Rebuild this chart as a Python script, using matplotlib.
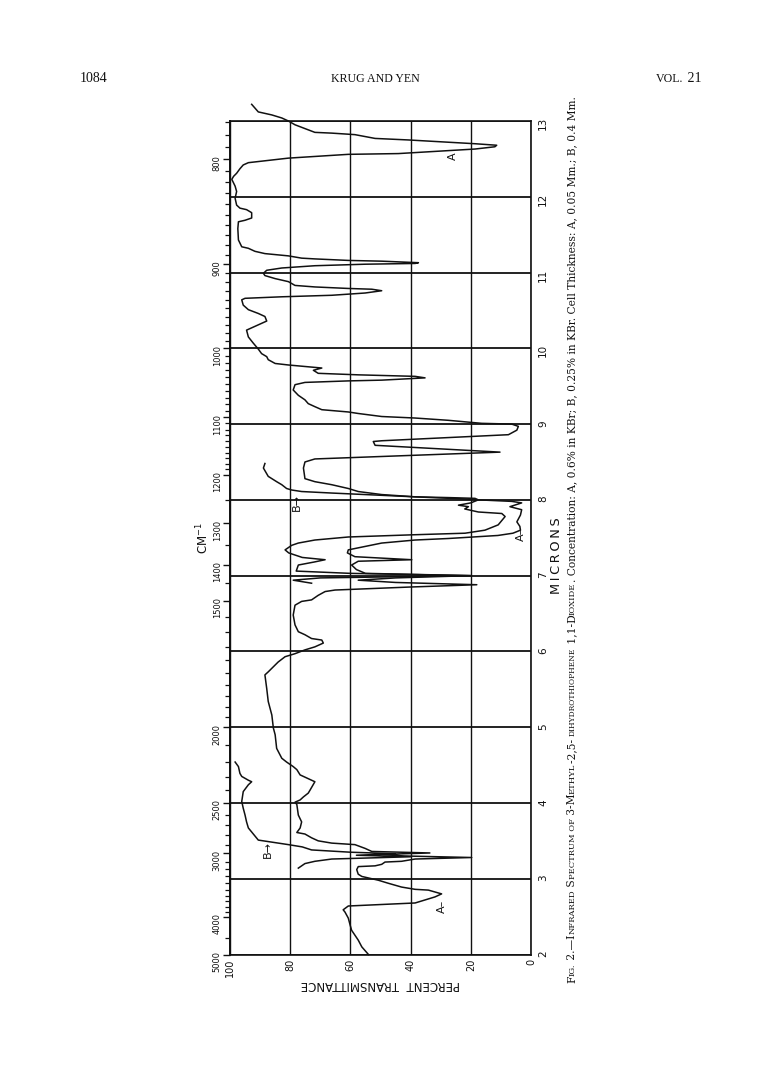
import numpy as np
import matplotlib
matplotlib.use("Agg")
import matplotlib.pyplot as plt
import matplotlib.transforms as mtransforms
from matplotlib.ticker import FixedLocator

W, H, DPI = 769, 1072, 100

# ---------------- data ----------------
# Curve A: wavelength (microns) and percent transmittance, in drawing order
a_microns = [2.00, 2.10, 2.19, 2.32, 2.39, 2.48, 2.56, 2.59, 2.64, 2.68, 2.76, 2.80, 2.85, 2.86,
             2.89, 2.94, 2.98, 3.01, 3.03, 3.06, 3.12, 3.16, 3.17, 3.19, 3.22, 3.23, 3.26, 3.28,
             3.30, 3.32, 3.34, 3.36, 3.40, 3.45, 3.47, 3.50, 3.54, 3.59, 3.61, 3.67, 3.75, 3.84,
             3.98, 4.01, 4.04, 4.08, 4.13, 4.17, 4.28, 4.30, 4.37, 4.44, 4.48, 4.54, 4.59, 4.72,
             4.90, 4.99, 5.16, 5.34, 5.51, 5.69, 5.73, 5.86, 5.93, 5.97, 6.02, 6.06, 6.11, 6.15,
             6.17, 6.22, 6.26, 6.35, 6.48, 6.61, 6.66, 6.68, 6.74, 6.79, 6.81, 6.85, 6.88, 6.91,
             6.94, 6.97, 7.00, 7.03, 7.08, 7.14, 7.19, 7.21, 7.25, 7.30, 7.34, 7.43, 7.47, 7.49,
             7.53, 7.56, 7.60, 7.65, 7.71, 7.80, 7.87, 7.91, 7.96, 7.98, 8.00, 8.02, 8.03, 8.04,
             8.07, 8.11, 8.15, 8.20, 8.24, 8.28, 8.42, 8.50, 8.54, 8.63, 8.72, 8.77, 8.78, 8.86,
             8.92, 8.97, 9.00, 9.01, 9.05, 9.08, 9.10, 9.14, 9.16, 9.19, 9.23, 9.27, 9.32, 9.38,
             9.45, 9.52, 9.55, 9.57, 9.58, 9.61, 9.63, 9.65, 9.67, 9.71, 9.74, 9.76, 9.78, 9.80,
             9.85, 9.89, 9.93, 9.99, 10.07, 10.15, 10.24, 10.29, 10.36, 10.42, 10.46, 10.51,
             10.57, 10.64, 10.66, 10.68, 10.70, 10.73, 10.76, 10.78, 10.79, 10.81, 10.83, 10.88,
             10.92, 10.96, 10.99, 11.03, 11.06, 11.09, 11.11, 11.12, 11.13, 11.15, 11.16, 11.18,
             11.19, 11.22, 11.25, 11.28, 11.32, 11.34, 11.43, 11.58, 11.67, 11.69, 11.72, 11.79,
             11.83, 11.85, 11.89, 11.98, 12.07, 12.14, 12.23, 12.27, 12.31, 12.37, 12.42, 12.45,
             12.51, 12.56, 12.57, 12.61, 12.63, 12.66, 12.68, 12.70, 12.72, 12.75, 12.77, 12.82,
             12.84, 12.85, 12.90, 12.95, 13.00, 13.04, 13.08, 13.12, 13.17, 13.22]
a_percent = [54.0, 56.2, 57.4, 59.6, 60.1, 60.7, 61.8, 62.4, 60.7, 38.5, 31.9, 29.7, 34.1, 38.5,
             43.0, 47.4, 50.7, 54.0, 56.2, 57.4, 57.9, 57.4, 51.8, 49.6, 48.5, 43.0, 38.5, 19.7,
             42.0, 50.0, 33.6, 52.9, 55.1, 58.5, 66.2, 70.7, 72.9, 75.1, 77.8, 76.7, 76.2, 77.3,
             77.8, 78.4, 76.7, 75.6, 74.0, 73.4, 71.8, 72.9, 76.7, 77.8, 79.0, 81.2, 82.8, 84.5,
             85.0, 85.6, 86.1, 87.3, 87.8, 88.4, 87.3, 84.0, 81.7, 78.4, 75.1, 71.8, 69.0, 69.5,
             72.9, 75.1, 77.3, 78.4, 79.0, 78.4, 76.2, 72.9, 70.7, 68.4, 65.1, 40.0, 18.0, 45.0,
             57.4, 45.0, 20.0, 55.0, 58.0, 59.6, 57.4, 39.6, 58.5, 61.0, 60.7, 49.6, 38.5, 27.5,
             11.0, 6.0, 3.5, 3.7, 4.7, 3.5, 3.1, 7.0, 3.1, 6.4, 17.5, 18.6, 27.4, 38.5,
             49.6, 57.4, 60.7, 66.2, 71.8, 75.1, 75.6, 75.1, 71.8, 10.3, 51.8, 52.4, 49.6, 7.5,
             4.7, 4.2, 6.4, 16.4, 27.5, 38.5, 49.6, 57.4, 60.7, 69.5, 71.8, 74.0, 75.1, 77.3,
             79.0, 78.4, 75.1, 60.7, 49.6, 35.2, 38.5, 57.4, 70.7, 72.3, 69.5, 75.1, 80.6, 85.0,
             87.3, 87.8, 89.5, 90.6, 92.3, 93.9, 94.5, 91.7, 87.8, 88.4, 90.6, 93.9,
             95.6, 96.1, 95.0, 82.8, 66.2, 55.1, 49.6, 52.9, 60.7, 71.8, 78.4, 80.6,
             85.0, 88.4, 88.9, 87.8, 82.8, 71.8, 55.1, 38.5, 37.4, 49.6, 60.7, 71.8,
             76.2, 80.6, 88.4, 91.7, 93.9, 96.1, 97.2, 97.4, 97.2, 95.0, 92.8, 92.8,
             94.5, 96.7, 97.8, 98.3, 97.8, 98.3, 99.4, 98.8, 97.8, 96.7, 95.6, 93.9,
             80.6, 60.7, 44.1, 27.5, 18.6, 12.0, 11.4, 18.6, 27.5, 40.8, 51.8, 58.5,
             66.2, 71.8, 75.1, 78.4, 80.6, 82.8, 86.1, 90.6, 91.7, 92.8]

# Curve B, first run (3 - 4.5 microns)
b1_microns = [3.14, 3.20, 3.23, 3.26, 3.27, 3.29, 3.31, 3.33, 3.35, 3.38, 3.42, 3.45, 3.51,
              3.67, 3.75, 3.84, 3.93, 4.02, 4.15, 4.24, 4.28, 4.30, 4.35, 4.39, 4.48, 4.54]
b1_percent = [77.3, 75.1, 71.8, 66.2, 57.4, 40.0, 58.0, 45.0, 60.0, 72.9, 76.0, 80.6, 90.6,
              93.9, 94.5, 95.0, 95.6, 96.1, 95.6, 93.9, 92.8, 93.9, 96.1, 96.7, 97.2, 98.3]

# Curve B, second run (6.9 - 8.5 microns)
b2_microns = [6.90, 6.94, 6.97, 7.00, 7.03, 7.06, 7.14, 7.18, 7.21, 7.24, 7.30, 7.34, 7.40,
              7.43, 7.47, 7.51, 7.54, 7.56, 7.60, 7.67, 7.78, 7.82, 7.84, 7.88, 7.91, 7.93,
              7.96, 8.00, 8.01, 8.03, 8.05, 8.07, 8.09, 8.11, 8.13, 8.15, 8.20, 8.24, 8.31,
              8.42, 8.48]
b2_percent = [72.9, 79.0, 70.0, 20.0, 60.0, 78.0, 77.3, 72.0, 68.4, 76.0, 80.5, 81.7, 79.5,
              77.3, 71.8, 60.7, 38.5, 21.9, 15.3, 10.9, 8.6, 9.7, 17.5, 22.0, 20.8, 24.1,
              20.0, 17.5, 20.8, 33.0, 44.1, 55.1, 66.2, 76.2, 79.5, 81.2, 82.8, 84.5, 87.3,
              88.9, 88.4]

percent_ticks = [100, 80, 60, 40, 20, 0]
micron_ticks = [2, 3, 4, 5, 6, 7, 8, 9, 10, 11, 12, 13]
wavenumber_labels = [5000, 4000, 3000, 2500, 2000, 1500, 1400, 1300, 1200, 1100, 1000, 900, 800]
wavenumber_minor = ([4500] + list(range(2600, 4000, 100)) + list(range(2100, 2500, 100))
                    + list(range(1550, 2000, 50)) + list(range(1250, 1500, 50))
                    + list(range(770, 1200, 10)))

# ---------------- figure ----------------
fig = plt.figure(figsize=(W / DPI, H / DPI), dpi=DPI)
fig.patch.set_facecolor("white")

x0, x1 = 230, 531          # page px of 100 % and 0 %
y_bot, y_top = 954.5, 121  # page px of 2 and 13 microns
ax = fig.add_axes([x0 / W, 1 - y_bot / H, (x1 - x0) / W, (y_bot - y_top) / H])
ax.set_xlim(100, 0)
ax.set_ylim(2, 13)
ink = "#111111"

for s in ax.spines.values():
    s.set_linewidth(1.2)
    s.set_color(ink)

ax.set_xticks(percent_ticks)
ax.set_yticks(micron_ticks)
ax.grid(True, axis="x", color=ink, lw=1.0)
ax.grid(True, axis="y", color=ink, lw=1.3)
ax.yaxis.tick_right()
ax.tick_params(axis="y", length=0, pad=5, labelrotation=90, labelsize=7.5, colors=ink)
ax.tick_params(axis="x", length=0, pad=3, labelrotation=90, labelsize=7, colors=ink)

ax.yaxis.set_label_position("right")
ax.set_ylabel("M\u2009I\u2009C\u2009R\u2009O\u2009N\u2009S", fontsize=9.3, rotation=90, color=ink)
ax.yaxis.set_label_coords(1.062, 0.478)
ax.set_xlabel("PERCENT  TRANSMITTANCE", fontsize=8.5, rotation=180, color=ink, labelpad=1)

sec = ax.secondary_yaxis("left", functions=(lambda m: 1e4 / np.clip(m, 1e-6, None),
                                             lambda w: 1e4 / np.clip(w, 1e-6, None)))
sec.yaxis.set_major_locator(FixedLocator(wavenumber_labels))
sec.yaxis.set_minor_locator(FixedLocator(wavenumber_minor))
sec.set_yticklabels([str(v) for v in wavenumber_labels])
sec.tick_params(which="major", direction="out", length=5, width=1.0, pad=1,
                labelrotation=90, labelsize=6, colors=ink)
sec.tick_params(which="minor", direction="out", length=3.5, width=0.9, colors=ink)
sec.spines["left"].set_linewidth(1.2)
sec.set_ylabel("CM$^{-1}$", fontsize=8.5, rotation=90, color=ink, labelpad=1)

lw = 1.1
ax.plot(a_percent, a_microns, color=ink, lw=lw, clip_on=False, zorder=3)
ax.plot(b1_percent, b1_microns, color=ink, lw=lw, clip_on=False, zorder=3)
ax.plot(b2_percent, b2_microns, color=ink, lw=lw, clip_on=False, zorder=3)

lab = dict(rotation=90, fontsize=8, color=ink, ha="center", va="center")
ax.text(25.8, 12.53, "A", **lab)
ax.text(29.5, 2.64, "A–", **lab)
ax.text(3.2, 7.55, "A–", **lab)
ax.text(87.5, 3.38, "B→", **lab)
ax.text(77.8, 7.97, "B→", **lab)

# ---------------- running text (page header & caption) ----------------
renderer = fig.canvas.get_renderer()
idt = mtransforms.IdentityTransform()


def advance(text, size, family):
    t = fig.text(0, 0, text + "|", fontsize=size, family=family)
    t2 = fig.text(0, 0, "|", fontsize=size, family=family)
    w = t.get_window_extent(renderer).width - t2.get_window_extent(renderer).width
    t.remove()
    t2.remove()
    return w


def runs_width(runs, family):
    return sum(advance(t, s, family) for t, s in runs)


def place_runs(x, y, runs, family, vertical=False):
    """x, y in page pixels (from top-left); baseline start."""
    pos = x if not vertical else y
    for text, size in runs:
        if vertical:
            fig.text(x, H - pos, text, fontsize=size, family=family, color=ink,
                     rotation=90, rotation_mode="anchor", ha="left", va="baseline",
                     transform=idt)
            pos -= advance(text, size, family)
        else:
            fig.text(pos, H - y, text, fontsize=size, family=family, color=ink,
                     ha="left", va="baseline", transform=idt)
            pos += advance(text, size, family)


hdr_font = "Liberation Serif"
place_runs(80, 82, [("1084", 10)], hdr_font)
hdr = [("KRUG AND YEN", 8.6)]
place_runs(375 - runs_width(hdr, hdr_font) / 2, 82, hdr, hdr_font)
vol = [("VOL.", 8.6), (" 21", 10)]
place_runs(701 - runs_width(vol, hdr_font), 82, vol, hdr_font)

cap_font = "DejaVu Serif"
big, small = 7.7, 6.0
caption = [("F", big), ("IG.", small), (" 2.—I", big), ("NFRARED", small), (" S", big),
           ("PECTRUM OF", small), (" 3-M", big), ("ETHYL", small), ("-2,5- ", big),
           ("DIHYDROTHIOPHENE", small - 0.6), (" 1,1-D", big), ("IOXIDE", small),
           (". Concentration: A, 0.6% in KBr; B, 0.25% in KBr. Cell Thickness: A, 0.05 Mm.; B, 0.4 Mm.", big)]
place_runs(575, 983, caption, cap_font, vertical=True)

fig.savefig("out.png", dpi=DPI, facecolor="white")
